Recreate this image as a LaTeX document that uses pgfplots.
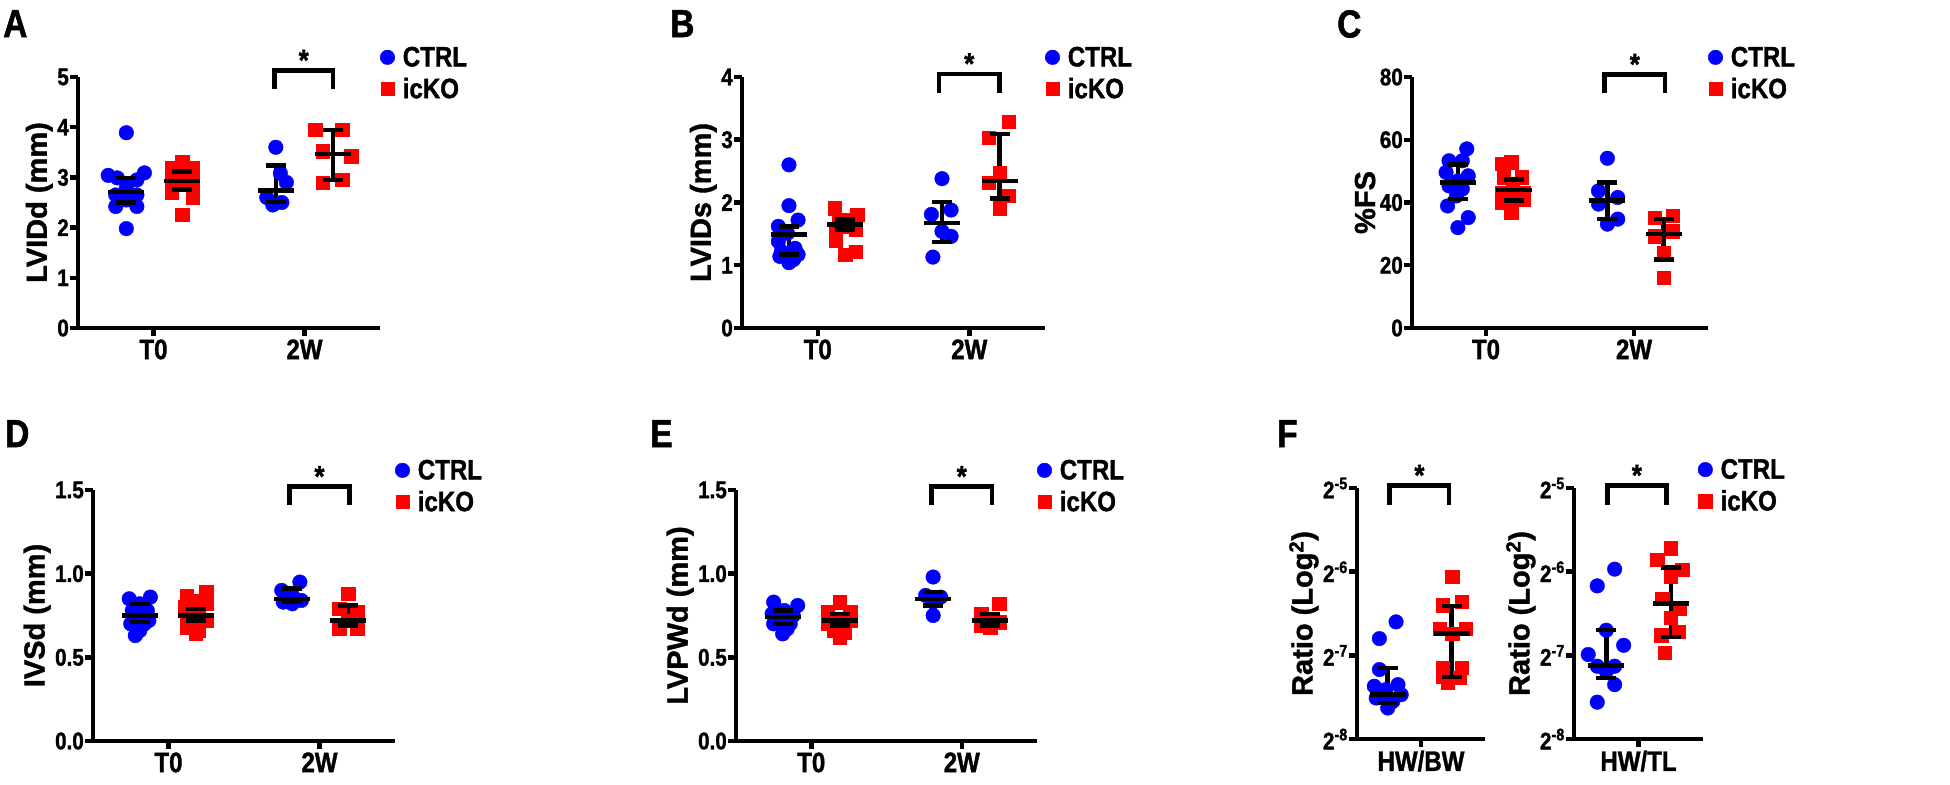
\documentclass[border=0pt]{standalone}
\usepackage{fontspec}
\setmainfont{Liberation Sans}[FakeStretch=0.86, BoldFeatures={FakeBold=1.3}]
\newfontfamily\labfont{Liberation Sans}[BoldFeatures={FakeBold=1.3}]
\usepackage{pgfplots}
\usepackage{pgfplotstable}
\pgfplotsset{compat=1.18}

\newcommand{\tickf}{\fontsize{24}{24}\selectfont\bfseries}
\newcommand{\catf}{\fontsize{28}{28}\selectfont\bfseries}
\newcommand{\labf}{\fontsize{29}{29}\labfont\bfseries}
\newcommand{\letf}{\fontsize{39}{39}\selectfont\bfseries}
% significance bracket: x1, x2, xmid, ytop, ybottom
\newcommand{\sig}[5]{%
  \draw[line width=4.5pt] (axis cs:#1,#5) -- (axis cs:#1,#4) -- (axis cs:#2,#4) -- (axis cs:#2,#5);
  \node[anchor=base, inner sep=0pt, font=\fontsize{30}{30}\selectfont\bfseries] at (axis cs:#3,#4) {*};}
% interval bar, caps and median line from one summary table
\newcommand{\summary}[1]{%
  \addplot[forget plot, black, line width=4.5pt, no marks,
    quiver={u=0, v=\thisrow{ep}+\thisrow{em}}]
    table[y expr=\thisrow{y}-\thisrow{em}] {#1};
  \addplot[cap] table[y expr=\thisrow{y}+\thisrow{ep}] {#1};
  \addplot[cap] table[y expr=\thisrow{y}-\thisrow{em}] {#1};
  \addplot[summ] table {#1};}

\pgfplotsset{
  panel/.style={
    scale only axis, clip=false, anchor=south west,
    axis x line*=bottom, axis y line*=left,
    axis line style={line width=4.5pt, -},
    every tick/.style={line width=4.5pt, black},
    major tick length=8pt, tick align=outside,
    /pgf/number format/assume math mode=true,
    yticklabel style={font=\tickf, inner xsep=1pt},
    xticklabel style={font=\catf},
    ylabel style={font=\labf},
    xmin=-0.5, xmax=1.5, xtick={0,1}, xticklabels={T0,2W},
    legend style={draw=none, fill=none, at={(1.0,1.125)}, anchor=north west,
      font=\catf, inner sep=0pt, row sep=8pt,
      nodes={inner xsep=8pt, inner ysep=1pt}},
    legend cell align=left,
    legend image code/.code={\draw[##1] plot coordinates {(7pt,0pt)};},
  },
  ctrl/.style={only marks, mark=*, mark size=7.3pt, blue},
  icko/.style={only marks, mark=square*, mark size=6.7pt, red},
  summ/.style={forget plot, only marks, black, mark=-, mark size=18pt,
    mark options={line width=4.5pt}},
  cap/.style={forget plot, only marks, black, mark=-, mark size=10pt,
    mark options={line width=4.5pt}},
}

% ---------- A: LVIDd ----------
\pgfplotstableread{
x y
-0.18 3.89
-0.30 3.04
-0.06 3.09
-0.24 2.99
-0.11 2.95
-0.18 2.80
-0.25 2.65
-0.11 2.65
-0.18 2.55
-0.25 2.42
-0.11 2.42
-0.18 1.98
0.81 3.60
0.84 3.08
0.88 2.90
0.75 2.60
0.79 2.45
0.85 2.50
}\actrl
\pgfplotstableread{
x y
0.19 3.30
0.12 3.19
0.26 3.19
0.12 3.02
0.26 3.00
0.19 2.95
0.12 2.85
0.26 2.80
0.12 2.70
0.26 2.60
0.19 2.26
1.07 3.95
1.25 3.95
1.12 3.52
1.31 3.42
1.12 2.90
1.25 2.95
}\aicko
\pgfplotstableread{
x y ep em
-0.18 2.71 0.28 0.21
0.19 2.93 0.19 0.17
0.81 2.74 0.50 0.23
1.19 3.47 0.47 0.52
}\asum

% ---------- B: LVIDs ----------
\pgfplotstableread{
x y
-0.19 2.60
-0.19 1.95
-0.13 1.72
-0.26 1.62
-0.20 1.51
-0.26 1.38
-0.13 1.17
-0.19 1.04
-0.25 1.14
-0.15 1.27
-0.24 1.22
-0.16 1.09
0.82 2.38
0.75 1.81
0.88 1.88
0.82 1.54
0.88 1.46
0.76 1.13
}\bctrl
\pgfplotstableread{
x y
0.11 1.91
0.26 1.81
0.18 1.73
0.12 1.51
0.25 1.57
0.12 1.40
0.18 1.17
0.25 1.22
0.18 1.62
0.14 1.73
0.23 1.67
1.26 3.29
1.13 3.03
1.20 2.47
1.13 2.32
1.26 2.11
1.20 1.91
}\bicko
\pgfplotstableread{
x y ep em
-0.19 1.49 0.13 0.32
0.18 1.65 0.08 0.08
0.82 1.67 0.34 0.30
1.20 2.34 0.75 0.28
}\bsum

% ---------- C: %FS ----------
\pgfplotstableread{
x y
-0.13 57.1
-0.25 53.3
-0.16 53.3
-0.27 49.6
-0.12 48.5
-0.19 46.9
-0.25 45.3
-0.16 44.3
-0.20 42.1
-0.26 38.9
-0.12 35.2
-0.19 32.0
0.82 54.1
0.76 43.7
0.89 41.6
0.76 39.5
0.89 34.7
0.82 33.1
}\cctrl
\pgfplotstableread{
x y
0.17 52.8
0.11 52.3
0.24 48.0
0.12 48.0
0.18 45.3
0.25 43.2
0.11 43.2
0.18 41.1
0.11 40.0
0.25 41.1
0.17 36.8
1.14 35.2
1.26 35.7
1.26 30.9
1.14 29.3
1.20 24.0
1.20 16.0
}\cicko
\pgfplotstableread{
x y ep em
-0.19 46.4 5.7 5.3
0.19 44.05 3.25 3.35
0.82 40.7 5.7 6.0
1.20 29.9 4.8 8.0
}\csum

% ---------- D: IVSd ----------
\pgfplotstableread{
x y
-0.26 0.85
-0.12 0.86
-0.19 0.82
-0.24 0.78
-0.14 0.78
-0.19 0.74
-0.25 0.70
-0.13 0.72
-0.19 0.66
-0.22 0.63
-0.16 0.70
-0.19 0.78
0.87 0.95
0.75 0.90
0.82 0.87
0.88 0.84
0.76 0.83
0.82 0.82
}\dctrl
\pgfplotstableread{
x y
0.25 0.89
0.12 0.87
0.18 0.84
0.25 0.82
0.11 0.80
0.20 0.78
0.12 0.74
0.25 0.72
0.16 0.70
0.20 0.66
0.18 0.64
0.12 0.68
1.19 0.88
1.13 0.79
1.25 0.77
1.19 0.72
1.13 0.67
1.25 0.67
}\dicko
\pgfplotstableread{
x y ep em
-0.19 0.75 0.07 0.04
0.18 0.75 0.04 0.03
0.82 0.85 0.06 0.02
1.19 0.72 0.09 0.03
}\dsum

% ---------- E: LVPWd ----------
\pgfplotstableread{
x y
-0.25 0.83
-0.09 0.81
-0.18 0.78
-0.26 0.76
-0.12 0.75
-0.19 0.72
-0.25 0.70
-0.14 0.70
-0.19 0.64
-0.16 0.67
-0.23 0.74
0.81 0.98
0.76 0.87
0.86 0.86
0.81 0.83
0.81 0.75
}\ectrl
\pgfplotstableread{
x y
0.19 0.83
0.11 0.77
0.26 0.77
0.19 0.72
0.11 0.70
0.26 0.72
0.19 0.62
0.15 0.66
0.22 0.65
1.25 0.82
1.13 0.76
1.19 0.72
1.25 0.71
1.13 0.69
1.19 0.68
}\eicko
\pgfplotstableread{
x y ep em
-0.19 0.74 0.04 0.04
0.19 0.72 0.04 0.03
0.81 0.85 0.04 0.04
1.19 0.72 0.04 0.03
}\esum

% ---------- F: ratios, log2 exponent ----------
\pgfplotstableread{
x y
-0.39 -6.60
-0.65 -6.80
-0.65 -7.17
-0.73 -7.37
-0.36 -7.35
-0.60 -7.49
-0.44 -7.55
-0.52 -7.63
-0.31 -7.47
-0.70 -7.51
-0.55 -7.41
}\fbwctrl
\pgfplotstableread{
x y
0.49 -6.06
0.34 -6.40
0.64 -6.36
0.29 -6.68
0.70 -6.68
0.49 -6.74
0.34 -7.15
0.64 -7.15
0.42 -7.33
0.34 -7.25
0.60 -7.27
}\fbwicko
\pgfplotstableread{
x y ep em
-0.52 -7.47 0.32 0.10
0.48 -6.74 0.33 0.52
}\fbwsum
\pgfplotstableread{
x y
-0.37 -5.97
-0.64 -6.17
-0.50 -6.70
-0.78 -6.99
-0.23 -6.88
-0.64 -7.13
-0.37 -7.13
-0.50 -7.19
-0.37 -7.35
-0.64 -7.56
}\ftlctrl
\pgfplotstableread{
x y
0.50 -5.72
0.29 -5.86
0.68 -5.98
0.50 -6.06
0.37 -6.32
0.64 -6.44
0.35 -6.76
0.62 -6.72
0.41 -6.97
0.50 -6.55
}\ftlicko
\pgfplotstableread{
x y ep em
-0.50 -7.12 0.42 0.15
0.50 -6.38 0.43 0.40
}\ftlsum

\begin{document}
\begin{tikzpicture}
\path[use as bounding box] (0pt,0pt) rectangle (1950pt,784pt);

\node[anchor=north west, inner sep=0pt, font=\letf] at (3pt,774pt) {A};
\node[anchor=north west, inner sep=0pt, font=\letf] at (670pt,774pt) {B};
\node[anchor=north west, inner sep=0pt, font=\letf] at (1337pt,774pt) {C};
\node[anchor=north west, inner sep=0pt, font=\letf] at (5pt,364pt) {D};
\node[anchor=north west, inner sep=0pt, font=\letf] at (650pt,364pt) {E};
\node[anchor=north west, inner sep=0pt, font=\letf] at (1277pt,364pt) {F};

% A
\begin{axis}[panel, at={(78pt,456pt)}, width=302pt, height=251pt,
  ymin=0, ymax=5, ytick={0,1,2,3,4,5}, ylabel={LVIDd (mm)}]
\addplot[ctrl] table {\actrl}; \addlegendentry{CTRL}
\addplot[icko] table {\aicko}; \addlegendentry{icKO}
\summary{\asum}
\sig{0.80}{1.19}{0.995}{5.13}{4.76}
\end{axis}

% B
\begin{axis}[panel, at={(742pt,456pt)}, width=303pt, height=251pt,
  ymin=0, ymax=4, ytick={0,1,2,3,4}, ylabel={LVIDs (mm)}]
\addplot[ctrl] table {\bctrl}; \addlegendentry{CTRL}
\addplot[icko] table {\bicko}; \addlegendentry{icKO}
\summary{\bsum}
\sig{0.80}{1.20}{1.0}{4.05}{3.75}
\end{axis}

% C
\begin{axis}[panel, at={(1412pt,456pt)}, width=296pt, height=251pt,
  ymin=0, ymax=80, ytick={0,20,40,60,80}, ylabel={\%FS}]
\addplot[ctrl] table {\cctrl}; \addlegendentry{CTRL}
\addplot[icko] table {\cicko}; \addlegendentry{icKO}
\summary{\csum}
\sig{0.80}{1.21}{1.005}{80.8}{74.8}
\end{axis}

% D
\begin{axis}[panel, at={(93pt,43pt)}, width=302pt, height=251pt,
  ymin=0, ymax=1.5, ytick={0,0.5,1,1.5},
  yticklabel style={/pgf/number format/fixed, /pgf/number format/fixed zerofill, /pgf/number format/precision=1},
  ylabel={IVSd (mm)}]
\addplot[ctrl] table {\dctrl}; \addlegendentry{CTRL}
\addplot[icko] table {\dicko}; \addlegendentry{icKO}
\summary{\dsum}
\sig{0.80}{1.20}{1.0}{1.52}{1.41}
\end{axis}

% E
\begin{axis}[panel, at={(736pt,43pt)}, width=301pt, height=251pt,
  ymin=0, ymax=1.5, ytick={0,0.5,1,1.5},
  yticklabel style={/pgf/number format/fixed, /pgf/number format/fixed zerofill, /pgf/number format/precision=1},
  ylabel={LVPWd (mm)}]
\addplot[ctrl] table {\ectrl}; \addlegendentry{CTRL}
\addplot[icko] table {\eicko}; \addlegendentry{icKO}
\summary{\esum}
\sig{0.80}{1.20}{1.0}{1.52}{1.41}
\end{axis}

% F left
\begin{axis}[panel, at={(1357pt,45pt)}, width=128pt, height=251pt,
  xmin=-1, xmax=1, xtick={0}, xticklabels={HW/BW},
  ymin=-8, ymax=-5, ytick={-8,-7,-6,-5},
  yticklabels={2\textsuperscript{-8},2\textsuperscript{-7},2\textsuperscript{-6},2\textsuperscript{-5}},
  ylabel={Ratio (Log\textsuperscript{2})}]
\addplot[ctrl] table {\fbwctrl};
\addplot[icko] table {\fbwicko};
\summary{\fbwsum}
\sig{-0.49}{0.44}{-0.025}{-4.97}{-5.20}
\end{axis}

% F right
\begin{axis}[panel, at={(1574pt,45pt)}, width=129pt, height=251pt,
  xmin=-1, xmax=1, xtick={0}, xticklabels={HW/TL},
  ymin=-8, ymax=-5, ytick={-8,-7,-6,-5},
  yticklabels={2\textsuperscript{-8},2\textsuperscript{-7},2\textsuperscript{-6},2\textsuperscript{-5}},
  ylabel={Ratio (Log\textsuperscript{2})},
  legend style={at={(0.96,1.12)}}]
\addplot[ctrl] table {\ftlctrl}; \addlegendentry{CTRL}
\addplot[icko] table {\ftlicko}; \addlegendentry{icKO}
\summary{\ftlsum}
\sig{-0.48}{0.43}{-0.025}{-4.97}{-5.20}
\end{axis}
\end{tikzpicture}
\end{document}
